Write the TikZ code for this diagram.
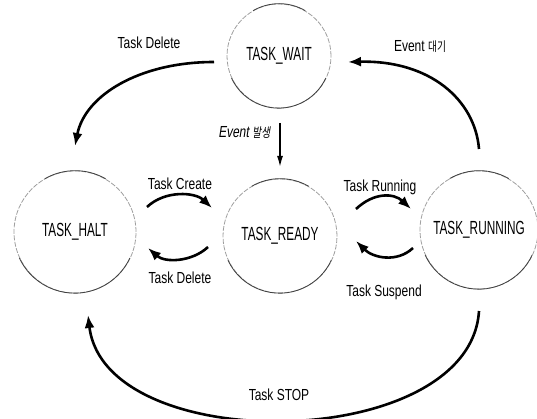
\documentclass[tikz,border=0pt]{standalone}
\usepackage{fontspec}
\usetikzlibrary{arrows.meta,calc}
\newfontfamily\statefont{Liberation Sans}[FakeStretch=0.62]
\newfontfamily\labfont{Liberation Sans}[FakeStretch=0.75]
\newfontfamily\kofont{Noto Sans CJK KR}[FakeStretch=0.75]
\begin{document}
\begin{tikzpicture}[x=1pt,y=-1pt,
  state/.style={circle,draw=gray!75,line width=0.8pt,dash pattern=on 5pt off 1.5pt,inner sep=0pt,
     font=\statefont\fontsize{19}{19}\selectfont},
  rim/.style={draw=black!75,line width=0.8pt},
  lab/.style={font=\labfont\fontsize{16}{16}\selectfont,inner sep=0pt},
  trans/.style={line width=2.6pt,-{Latex[length=13pt,width=10pt]}},
  thin arrow/.style={line width=1.4pt,-{Latex[length=11pt,width=6pt]}}]
\useasboundingbox (0,0) rectangle (537,419);
\node[state,minimum size=104pt] (wait) at (279,56) {TASK\_WAIT};
\node[state,minimum size=122pt] (halt) at (75,232) {TASK\_HALT};
\node[state,minimum size=114pt] (ready) at (280,236) {TASK\_READY};
\node[state,minimum size=118pt] (run) at (479,230) {TASK\_RUNNING};
% darker lower rims
\draw[rim] (wait.205) arc[start angle=205,end angle=335,radius=52pt];
\draw[rim] (wait.60) arc[start angle=60,end angle=120,radius=52pt];
\draw[rim] (halt.205) arc[start angle=205,end angle=335,radius=61pt];
\draw[rim] (halt.60) arc[start angle=60,end angle=120,radius=61pt];
\draw[rim] (ready.205) arc[start angle=205,end angle=335,radius=57pt];
\draw[rim] (ready.60) arc[start angle=60,end angle=120,radius=57pt];
\draw[rim] (run.205) arc[start angle=205,end angle=335,radius=59pt];
\draw[rim] (run.60) arc[start angle=60,end angle=120,radius=59pt];
% labels
\node[lab] (l1) at (149,43) {Task Delete};
\node[lab] (l2) at (420,47) {Event {\kofont\fontsize{13}{13}\selectfont 대기}};
\node[lab,xslant=0.15] (l3) at (245,132) {Event {\kofont\fontsize{13}{13}\selectfont 발생}};
\node[lab] (l4) at (180,184) {Task Create};
\node[lab] (l5) at (180,278) {Task Delete};
\node[lab] (l6) at (380,187) {Task Running};
\node[lab] (l7) at (384,292) {Task Suspend};
\node[lab] (l8) at (279,395) {Task STOP};
% connectors
\draw[trans] ($(wait.center)+(-65,6)$) .. controls +(-74,0) and +(10,-51) .. ($(halt.center)+(0,-86)$);
\draw[trans] ($(run.center)+(0,-81)$) .. controls +(-4,-49) and +(82,-2) .. ($(wait.center)+(69,6)$);
\draw[thin arrow] ($(wait.center)+(1,67)$) -- ($(ready.center)+(0,-69)$);
\draw[trans] ($(halt.center)+(72,-25)$) .. controls +(18,-17) and +(-17,-16) .. ($(ready.center)+(-68,-28)$);
\draw[trans] ($(ready.center)+(-72,11)$) .. controls +(-16,15) and +(17,15) .. ($(halt.center)+(73,16)$);
\draw[trans] ($(ready.center)+(76,-27)$) .. controls +(18,-17) and +(-17,-16) .. ($(run.center)+(-68,-21)$);
\draw[trans] ($(run.center)+(-66,18)$) .. controls +(-16,15) and +(17,17) .. ($(ready.center)+(76,5)$);
\draw[trans] ($(run.center)+(0,81)$) .. controls +(-9,142) and +(17,143) .. ($(halt.center)+(13,83)$);
\end{tikzpicture}
\end{document}
